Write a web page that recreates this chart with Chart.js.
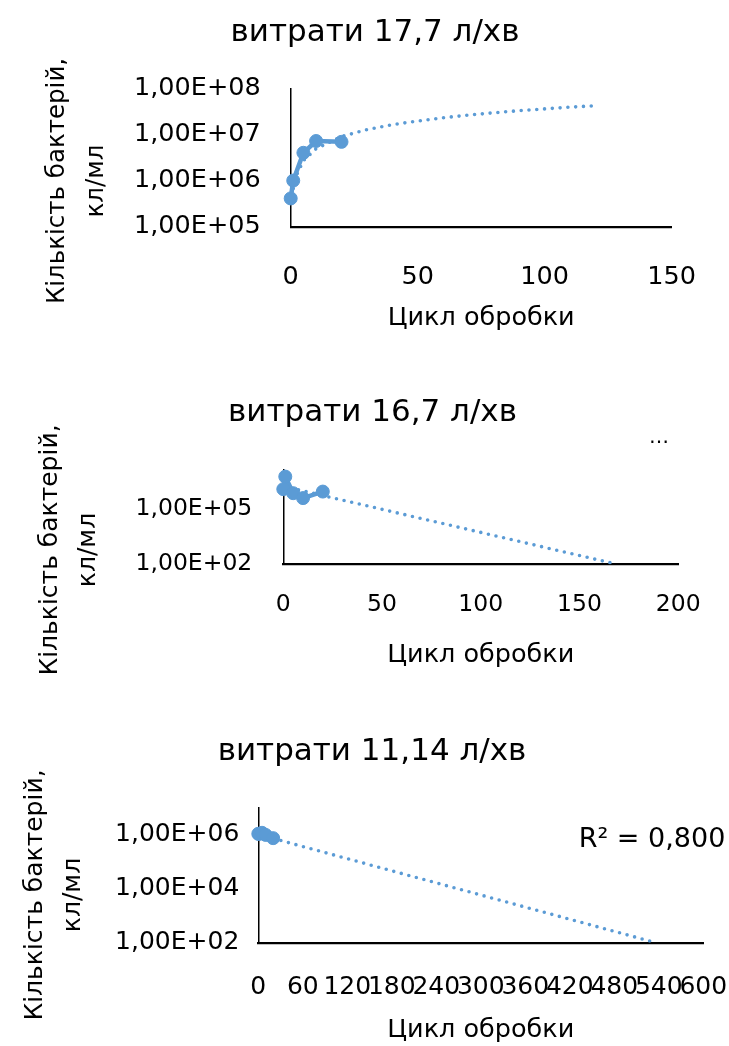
<!DOCTYPE html>
<html><head><meta charset="utf-8">
<script src="https://cdn.jsdelivr.net/npm/chart.js@4.4.0/dist/chart.umd.min.js"></script>
<style>
html,body{margin:0;padding:0;background:#fff;width:729px;height:1046px;overflow:hidden;position:relative;}
canvas{position:absolute;left:0;}
</style></head><body>
<canvas id="c1" width="729" height="350" style="top:0px"></canvas>
<canvas id="c2" width="729" height="330" style="top:370px"></canvas>
<canvas id="c3" width="729" height="331" style="top:715px"></canvas>
<script>
// ---------- text ----------
const chartTitles = ['витрати 17,7 л/хв', 'витрати 16,7 л/хв', 'витрати 11,14 л/хв'];
const yAxisTitleLines = ['Кількість бактерій,', 'кл/мл'];
const xAxisTitle = 'Цикл обробки';
const note2 = '…';
const note3 = 'R² = 0,800';

// ---------- chart 1 (17,7 л/хв) ----------
const cycles1 = [0, 1, 5, 10, 20];
const bacteria1 = [4.1e5, 1.0e6, 4.0e6, 7.2e6, 6.9e6];
const trendX1 = [1, 2, 5, 10, 20, 30, 40, 50, 60, 70, 80, 90, 100, 110, 120];
const trendY1 = [6.7e5, 1.2e6, 2.7e6, 4.9e6, 9.0e6, 1.27e7, 1.63e7, 1.95e7, 2.3e7, 2.62e7, 2.95e7, 3.27e7, 3.58e7, 3.9e7, 4.2e7];
const yTicks1 = [1e5, 1e6, 1e7, 1e8];
const yTickLabels1 = ['1,00E+05', '1,00E+06', '1,00E+07', '1,00E+08'];
const xTicks1 = [0, 50, 100, 150];

// ---------- chart 2 (16,7 л/хв) ----------
const cycles2 = [0, 1, 5, 10, 20];
const bacteria2 = [1.26e6, 6.1e6, 7.6e5, 4.1e5, 9.3e5];
const trendX2 = [0, 50, 100, 150, 169];
const trendY2 = [1.8e6, 1.0e5, 5.5e3, 3.0e2, 1.0e2];
const yTicks2 = [1e2, 1e5];
const yTickLabels2 = ['1,00E+02', '1,00E+05'];
const yMax2 = 1.4e7;
const xTicks2 = [0, 50, 100, 150, 200];

// ---------- chart 3 (11,14 л/хв) ----------
const cycles3 = [0, 1, 5, 10, 20];
const bacteria3 = [1.1e6, 1.1e6, 1.2e6, 1.0e6, 7.6e5];
const trendX3 = [0, 100, 200, 300, 400, 500, 536];
const trendY3 = [1.05e6, 1.86e5, 3.3e4, 5.9e3, 1.05e3, 1.86e2, 1.0e2];
const yTicks3 = [1e2, 1e4, 1e6];
const yTickLabels3 = ['1,00E+02', '1,00E+04', '1,00E+06'];
const xTicks3 = [0, 60, 120, 180, 240, 300, 360, 420, 480, 540, 600];

// ---------- styling / layout ----------
const FONT = '"DejaVu Sans", sans-serif';
const BLUE = '#5B9BD5';
const TITLE_SIZE = 31, AXIS_TITLE_SIZE = 25.5;

function makeChart(id, d, L) {
  const toPts = (xs, ys) => xs.map((x, i) => ({x: x, y: ys[i]}));
  const titleLH = TITLE_SIZE * 1.2, axLH = AXIS_TITLE_SIZE * 1.2;
  const textPlugin = {
    id: 'texts' + id,
    afterDraw(chart) {
      const ctx = chart.ctx;
      ctx.save();
      ctx.fillStyle = '#000';
      ctx.textAlign = 'center';
      ctx.textBaseline = 'middle';
      ctx.font = L.yTitleSize + 'px ' + FONT;
      yAxisTitleLines.forEach((line, i) => {
        ctx.save();
        ctx.translate(L.yTitleX[i], L.yTitleY);
        ctx.rotate(-Math.PI / 2);
        ctx.fillText(line, 0, 0);
        ctx.restore();
      });
      if (L.note) {
        ctx.font = L.note.size + 'px ' + FONT;
        ctx.fillText(L.note.text, L.note.x, L.note.y);
      }
      ctx.restore();
    }
  };
  return new Chart(document.getElementById(id), {
    type: 'line',
    data: {
      datasets: [
        {
          data: toPts(d.x, d.y),
          borderColor: BLUE, backgroundColor: BLUE,
          pointBackgroundColor: BLUE, pointBorderColor: BLUE,
          borderWidth: 4.5, pointRadius: 6.5, pointBorderWidth: 1,
          tension: 0, order: 0, clip: false
        },
        {
          data: toPts(d.tx, d.ty),
          borderColor: BLUE, borderWidth: 3.6,
          borderDash: [0, 7.8], borderCapStyle: 'round',
          pointRadius: 0, tension: 0, order: 1, fill: false
        }
      ]
    },
    options: {
      responsive: false, animation: false, events: [],
      layout: {padding: {left: L.padL, right: 729 - L.plotR, top: 0, bottom: 0}},
      plugins: {
        legend: {display: false},
        tooltip: {enabled: false},
        title: {
          display: true, text: d.title, color: '#000',
          font: {family: FONT, size: TITLE_SIZE, weight: 'normal'},
          padding: {top: L.titleY - titleLH / 2, bottom: L.plotT - L.titleY - titleLH / 2}
        }
      },
      scales: {
        x: {
          type: 'linear', min: d.xTicks[0], max: d.xTicks[d.xTicks.length - 1],
          afterBuildTicks: (s) => { s.ticks = d.xTicks.map(v => ({value: v})); },
          afterFit: (s) => { s.height = L.h - L.plotB; },
          grid: {display: false, drawTicks: false},
          border: {display: true, color: '#000', width: 2.2},
          ticks: {
            color: '#000',
            font: {family: FONT, size: L.tick, lineHeight: (2 * (L.xTickY - L.plotB)) + 'px'},
            padding: 0,
            autoSkip: false, maxRotation: 0, minRotation: 0
          },
          title: {
            display: true, text: xAxisTitle, color: '#000',
            font: {family: FONT, size: AXIS_TITLE_SIZE},
            padding: {top: 0, bottom: L.h - L.xTitleY - axLH / 2}
          }
        },
        y: {
          type: 'logarithmic', min: d.yMin, max: d.yMax,
          afterBuildTicks: (s) => { s.ticks = d.yTicks.map(v => ({value: v})); },
          afterFit: (s) => { s.width = L.plotL - L.padL; },
          grid: {display: false, drawTicks: false},
          border: {display: true, color: '#000', width: 1.5},
          ticks: {
            color: '#000', font: {family: FONT, size: L.tick},
            padding: L.yTickPad,
            callback: (v) => { const k = d.yTicks.indexOf(v); return k >= 0 ? d.yLabels[k] : ''; }
          }
        }
      }
    },
    plugins: [textPlugin]
  });
}

makeChart('c1',
  {x: cycles1, y: bacteria1, tx: trendX1, ty: trendY1, title: chartTitles[0],
   yTicks: yTicks1, yLabels: yTickLabels1, yMin: 1e5, yMax: 1e8, xTicks: xTicks1},
  {h: 350, plotL: 290.7, plotR: 671.7, plotT: 88.3, plotB: 226.7, padL: 78.3, tick: 25.5,
   titleY: 33, xTickY: 277, xTitleY: 318, yTitleX: [58, 97], yTitleY: 181, yTitleSize: 24.5,
   yTickPad: 30, note: null});

makeChart('c2',
  {x: cycles2, y: bacteria2, tx: trendX2, ty: trendY2, title: chartTitles[1],
   yTicks: yTicks2, yLabels: yTickLabels2, yMin: 1e2, yMax: yMax2, xTicks: xTicks2},
  {h: 330, plotL: 283.3, plotR: 678.3, plotT: 100, plotB: 194.3, padL: 66.7, tick: 23.5,
   titleY: 43, xTickY: 235, xTitleY: 285, yTitleX: [50, 88], yTitleY: 180, yTitleSize: 25,
   yTickPad: 31, note: {text: note2, x: 659, y: 68, size: 20}});

makeChart('c3',
  {x: cycles3, y: bacteria3, tx: trendX3, ty: trendY3, title: chartTitles[2],
   yTicks: yTicks3, yLabels: yTickLabels3, yMin: 1e2, yMax: 1e7, xTicks: xTicks3},
  {h: 331, plotL: 258.3, plotR: 703.3, plotT: 93, plotB: 227.7, padL: 40.7, tick: 25,
   titleY: 37, xTickY: 272, xTitleY: 315, yTitleX: [35, 73], yTitleY: 180, yTitleSize: 25,
   yTickPad: 19, note: {text: note3, x: 652, y: 125, size: 27}});
</script>
</body></html>
